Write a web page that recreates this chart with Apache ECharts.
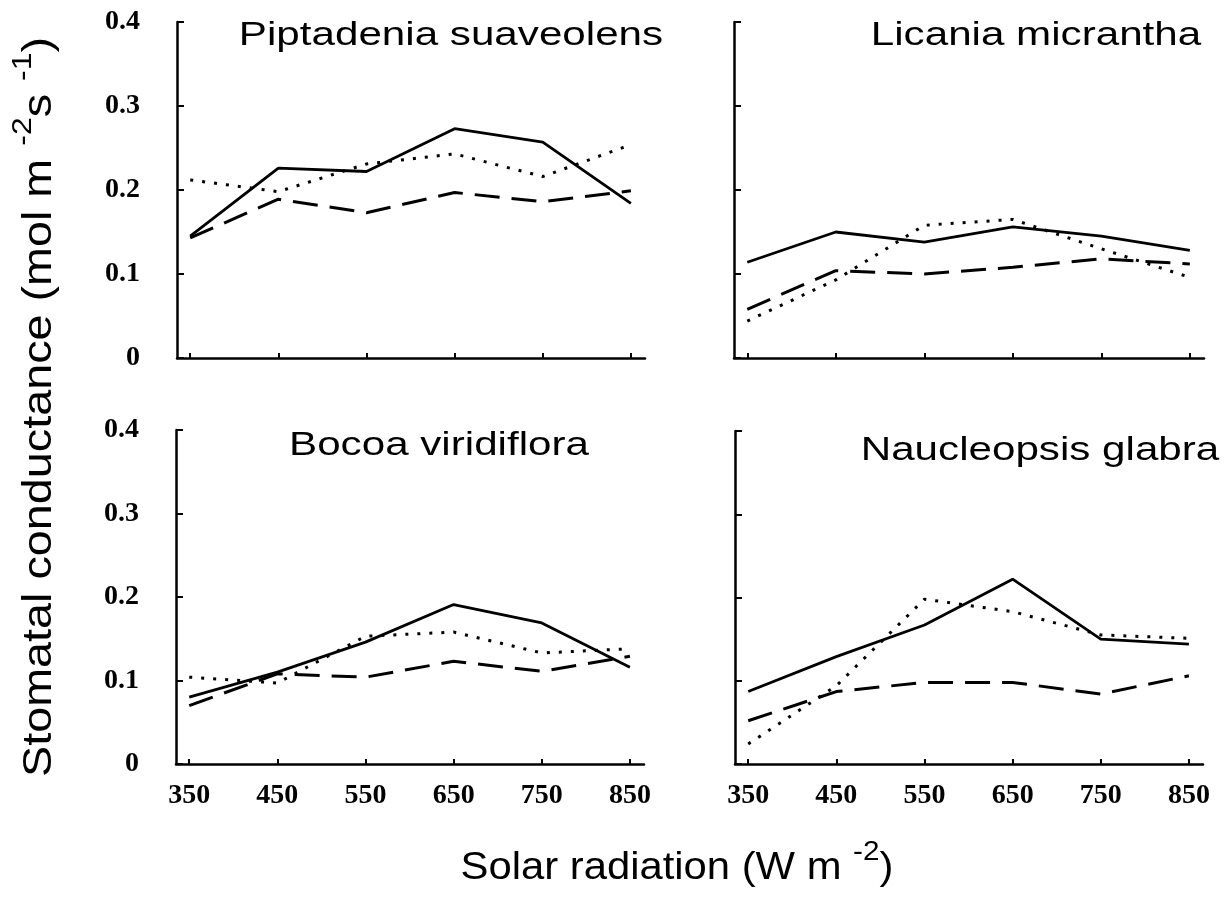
<!DOCTYPE html>
<html><head><meta charset="utf-8">
<script src="https://cdn.jsdelivr.net/npm/echarts@6/dist/echarts.min.js"></script>
<style>html,body{margin:0;padding:0;background:#fff}#c{width:1230px;height:897px}</style>
</head><body><div id="c"></div>
<script>
// ---- data ----
const xValues = [350, 450, 550, 650, 750, 850];
const panelTitles = ['Piptadenia suaveolens', 'Licania micrantha', 'Bocoa viridiflora', 'Naucleopsis glabra'];

const piptadeniaSolid  = [0.145, 0.226, 0.222, 0.273, 0.257, 0.184];
const piptadeniaDotted = [0.212, 0.198, 0.231, 0.243, 0.216, 0.254];
const piptadeniaDashed = [0.143, 0.189, 0.173, 0.197, 0.186, 0.199];

const licaniaSolid  = [0.114, 0.150, 0.138, 0.156, 0.145, 0.128];
const licaniaDotted = [0.044, 0.093, 0.158, 0.165, 0.130, 0.096];
const licaniaDashed = [0.058, 0.104, 0.100, 0.108, 0.118, 0.112];

const bocoaSolid  = [0.080, 0.110, 0.146, 0.191, 0.169, 0.116];
const bocoaDotted = [0.104, 0.097, 0.153, 0.158, 0.133, 0.138];
const bocoaDashed = [0.070, 0.108, 0.104, 0.123, 0.111, 0.129];

const naucleopsisSolid  = [0.087, 0.129, 0.167, 0.222, 0.150, 0.144];
const naucleopsisDotted = [0.024, 0.094, 0.198, 0.183, 0.155, 0.151];
const naucleopsisDashed = [0.052, 0.087, 0.098, 0.098, 0.084, 0.106];

const xAxisTitle = 'Solar radiation (W m';
const yAxisTitle = 'Stomatal conductance (mol m';

// ---- layout ----
const panels = [
  { grid: { left: 177, top: 22, width: 468, height: 336 }, showX: false, showY: true,  data: [piptadeniaSolid, piptadeniaDotted, piptadeniaDashed], title: { x: 451, y: 36 } },
  { grid: { left: 734, top: 22, width: 470, height: 336 }, showX: false, showY: false, data: [licaniaSolid, licaniaDotted, licaniaDashed], title: { x: 1036, y: 36 } },
  { grid: { left: 176, top: 430, width: 468, height: 334 }, showX: true, showY: true,  data: [bocoaSolid, bocoaDotted, bocoaDashed], title: { x: 439, y: 446 } },
  { grid: { left: 735, top: 431, width: 468, height: 333 }, showX: true, showY: false, data: [naucleopsisSolid, naucleopsisDotted, naucleopsisDashed], title: { x: 1040, y: 451 } }
];
const lineTypes = ['solid', [3, 9], [25, 12]];
const lineNames = ['solid line', 'dotted line', 'dashed line'];

const tickFont = { fontFamily: 'Liberation Serif, Times New Roman, serif', fontWeight: 'bold', fontSize: 28, color: '#000' };
const axisLineStyle = { color: '#000', width: 2.5 };

const grids = [], xAxes = [], yAxes = [], series = [], graphics = [];
panels.forEach((p, i) => {
  grids.push(p.grid);
  xAxes.push({
    type: 'value', gridIndex: i, min: 335, max: 866,
    axisLine: { show: true, onZero: false, lineStyle: axisLineStyle },
    axisTick: { show: true, inside: true, length: 5, customValues: xValues, lineStyle: { color: '#000', width: 2 } },
    axisLabel: Object.assign({ show: p.showX, customValues: xValues, margin: 18 }, tickFont),
    splitLine: { show: false }
  });
  yAxes.push({
    type: 'value', gridIndex: i, min: 0, max: 0.4, interval: 0.1,
    axisLine: { show: true, onZero: false, lineStyle: axisLineStyle },
    axisTick: { show: true, inside: true, length: 7, lineStyle: { color: '#000', width: 2 } },
    axisLabel: Object.assign({ show: p.showY, margin: 37 }, tickFont),
    splitLine: { show: false }
  });
  p.data.forEach((arr, k) => {
    series.push({
      type: 'line', name: panelTitles[i] + ' ' + lineNames[k],
      xAxisIndex: i, yAxisIndex: i,
      data: xValues.map((x, j) => [x, arr[j]]),
      symbol: 'none', showSymbol: false, silent: true,
      lineStyle: { color: '#000', width: k === 0 ? 2.8 : 3, type: lineTypes[k] }
    });
  });
  graphics.push({
    type: 'text', x: p.title.x, y: p.title.y, scaleX: 1.24,
    style: { text: panelTitles[i], fontFamily: 'Liberation Sans, Arial, sans-serif', fontSize: 34, fill: '#000', align: 'center', verticalAlign: 'middle' }
  });
});

// axis titles
graphics.push({
  type: 'text', x: 677, y: 869, scaleX: 1.1,
  style: {
    text: '{a|' + xAxisTitle + ' }{s|-2}{a|)}',
    align: 'center', verticalAlign: 'middle', fill: '#000',
    rich: {
      a: { fontFamily: 'Liberation Sans, Arial, sans-serif', fontSize: 38, fill: '#000' },
      s: { fontFamily: 'Liberation Sans, Arial, sans-serif', fontSize: 27, fill: '#000', padding: [0, 0, 32, 0] }
    }
  }
});
graphics.push({
  type: 'text', x: 40, y: 407, rotation: Math.PI / 2, scaleX: 1.14,
  style: {
    text: '{a|' + yAxisTitle + ' }{s|-2}{a|s }{s|-1}{a|)}',
    align: 'center', verticalAlign: 'middle', fill: '#000',
    rich: {
      a: { fontFamily: 'Liberation Sans, Arial, sans-serif', fontSize: 41, fill: '#000' },
      s: { fontFamily: 'Liberation Sans, Arial, sans-serif', fontSize: 28, fill: '#000', padding: [0, 0, 34, 0] }
    }
  }
});

const chart = echarts.init(document.getElementById('c'), null, { renderer: 'canvas' });
chart.setOption({
  backgroundColor: '#fff',
  animation: false,
  grid: grids,
  xAxis: xAxes,
  yAxis: yAxes,
  series: series,
  graphic: graphics
});
</script>
</body></html>
